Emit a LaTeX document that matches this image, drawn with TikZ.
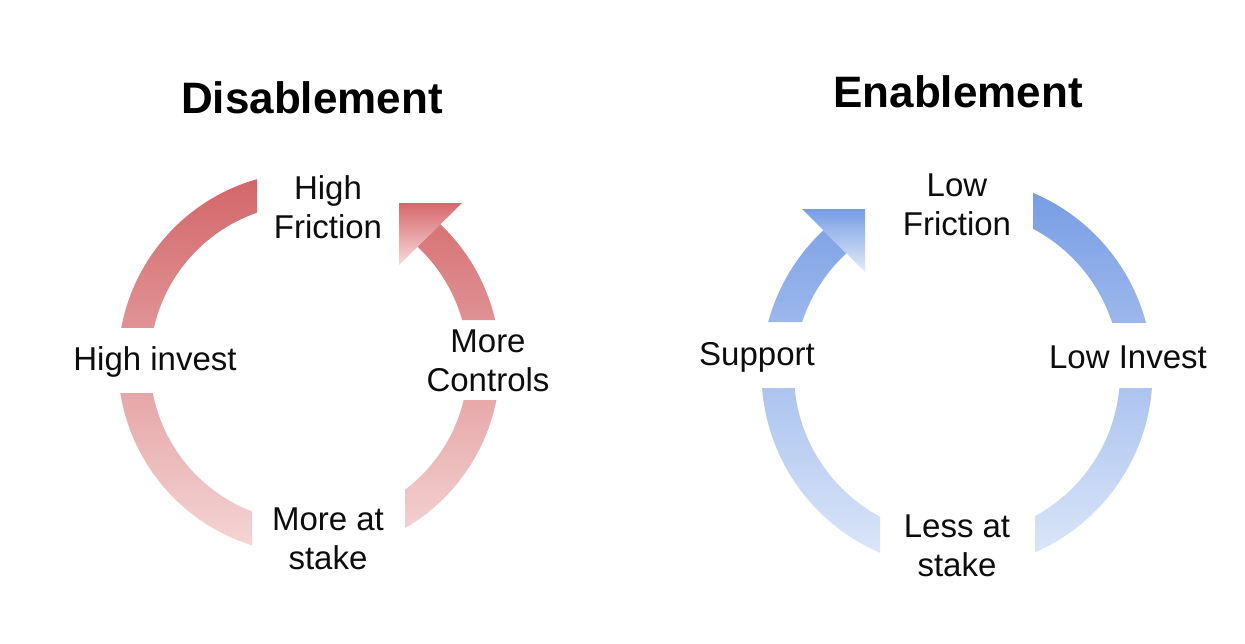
\documentclass[tikz,border=0pt]{standalone}
\usepackage{fontspec}
\setmainfont{Liberation Sans}
\definecolor{redtop}{RGB}{210,100,104}
\definecolor{redbot}{RGB}{245,215,215}
\definecolor{redheadtop}{RGB}{214,104,108}
\definecolor{redheadbot}{RGB}{248,218,218}
\definecolor{bluetop}{RGB}{116,154,228}
\definecolor{bluebot}{RGB}{222,232,249}
\definecolor{blueheadtop}{RGB}{118,156,228}
\definecolor{blueheadbot}{RGB}{228,236,251}
\begin{document}
\begin{tikzpicture}[x=1pt,y=-1pt,
  lbl/.style={inner sep=0pt,align=center,font=\fontsize{33}{38.5}\selectfont,text=black!95},
  ttl/.style={inner sep=0pt,font=\bfseries\fontsize{44}{50}\selectfont},
  redring/.style={even odd rule,top color=redtop,bottom color=redbot},
  bluering/.style={even odd rule,top color=bluetop,bottom color=bluebot}]
\useasboundingbox (0,0) rectangle (1245,643);
\fill[white] (0,0) rectangle (1245,643);

% ---------------- Disablement (red) ----------------
\coordinate (cl) at (309,363);
\begin{scope}
  \clip (0,0) rectangle (257,327);
  \shade[redring] (cl) circle (191) (cl) circle (159);
\end{scope}
\begin{scope}
  \clip (0,393) rectangle (252,643);
  \shade[redring] (cl) circle (191) (cl) circle (159);
\end{scope}
\begin{scope}
  \clip (405,400) rectangle (620,643);
  \shade[redring] (cl) circle (191) (cl) circle (159);
\end{scope}
\begin{scope}
  \clip (343.1,320) -- (620,320) -- (620,79) -- (588,79) -- cycle;
  \shade[redring] (cl) circle (191) (cl) circle (159);
\end{scope}
\shade[top color=redheadtop,bottom color=redheadbot] (399,203) -- (462,203) -- (399,265) -- cycle;

% ---------------- Enablement (blue) ----------------
\coordinate (cr) at (957,373);
\begin{scope}
  \clip (1033,0) rectangle (1245,322);
  \shade[bluering] (cr) circle (195.5) (cr) circle (163);
\end{scope}
\begin{scope}
  \clip (1035,388) rectangle (1245,643);
  \shade[bluering] (cr) circle (195.5) (cr) circle (163);
\end{scope}
\begin{scope}
  \clip (640,388) rectangle (880,643);
  \shade[bluering] (cr) circle (195.5) (cr) circle (163);
\end{scope}
\begin{scope}
  \clip (915,322) -- (640,322) -- (640,100) -- (693,100) -- cycle;
  \shade[bluering] (cr) circle (195.5) (cr) circle (163);
\end{scope}
\shade[top color=blueheadtop,bottom color=blueheadbot] (802,209) -- (865,209) -- (865,272) -- cycle;

% ---------------- Texts ----------------
\node[ttl] (tdis) at (312,98) {Disablement};
\node[ttl] (ten) at (958,92) {Enablement};

\node[lbl] (hf) at (328,207) {High\\Friction};
\node[lbl] (mc) at (488,361) {More\\Controls};
\node[lbl] (hi) at (155,362) {High invest};
\node[lbl] (ms) at (328,539) {More at\\stake};

\node[lbl] (lf) at (957,205) {Low\\Friction};
\node[lbl] (sp) at (757,357) {Support};
\node[lbl] (li) at (1128,357) {Low Invest};
\node[lbl] (ls) at (957,546) {Less at\\stake};
\end{tikzpicture}
\end{document}
